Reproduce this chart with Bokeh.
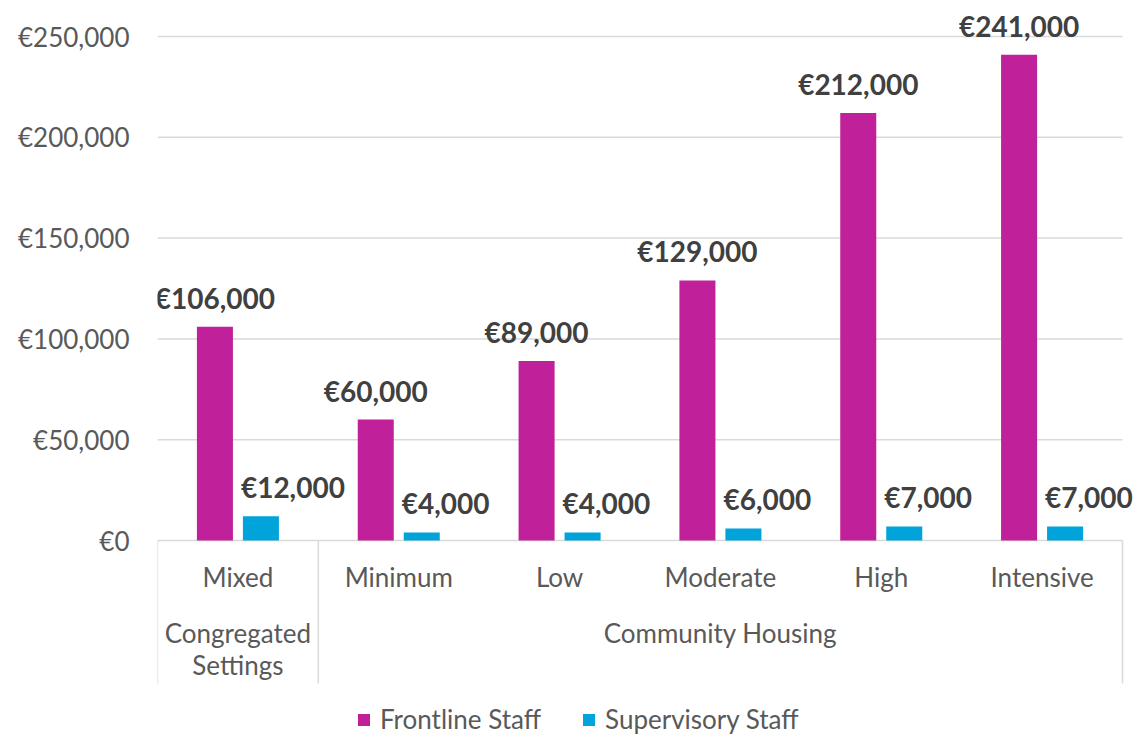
from bokeh.plotting import figure
from bokeh.models import ColumnDataSource, FixedTicker, Legend, LegendItem, Range1d
from bokeh.core.properties import value
from bokeh.embed import file_html
from bokeh.resources import INLINE

# ---- data ----
categories = ["Mixed", "Minimum", "Low", "Moderate", "High", "Intensive"]
groups = ["Congregated\nSettings", "Community Housing"]
group_sizes = [1, 5]
frontline = [106000, 60000, 89000, 129000, 212000, 241000]
supervisory = [12000, 4000, 4000, 6000, 7000, 7000]
series_names = ["Frontline Staff", "Supervisory Staff"]
y_ticks = [0, 50000, 100000, 150000, 200000, 250000]
y_tick_labels = ["€0", "€50,000", "€100,000", "€150,000", "€200,000", "€250,000"]

# ---- style ----
FONT = "Lato"
MAGENTA = "#C0219A"
BLUE = "#00A3DA"
GREY_TXT = "#595959"
LABEL_TXT = "#404040"
LINE = "#D9D9D9"

W, H = 1139, 736
LEFT = 157
AXIS_RIGHT_PX = 1122   # where the category axis ends
ZERO_PX = 540          # canvas y of value 0
TOP_PX = 36            # canvas y of 250,000
px_per_unit = (ZERO_PX - TOP_PX) / 250000.0
y_end = 250000 + TOP_PX / px_per_unit
y_start = -(H - ZERO_PX) / px_per_unit

n = len(categories)
cat_px = (AXIS_RIGHT_PX - LEFT) / n
x_end = n + (W - AXIS_RIGHT_PX) / cat_px

p = figure(width=W, height=H, x_range=Range1d(0, x_end), y_range=Range1d(y_start, y_end),
           output_backend="svg", toolbar_location=None, x_axis_location=None,
           min_border_left=LEFT, min_border_right=0, min_border_top=0, min_border_bottom=0)
p.outline_line_color = None
p.xgrid.visible = False
p.ygrid.visible = False

ax = p.yaxis[0]
ax.ticker = FixedTicker(ticks=y_ticks)
ax.major_label_overrides = {t: l for t, l in zip(y_ticks, y_tick_labels)}
ax.axis_line_color = None
ax.major_tick_line_color = None
ax.minor_tick_line_color = None
ax.major_label_standoff = 22
ax.major_label_text_font = FONT
ax.major_label_text_font_size = "26px"
ax.major_label_text_color = GREY_TXT

# gridlines limited to the category span
p.segment(x0=[0] * len(y_ticks), y0=y_ticks, x1=[n] * len(y_ticks), y1=y_ticks,
          line_color=LINE, line_width=1.5)

# ---- bars ----
off, bw = 0.143, 0.224
centers = [i + 0.5 for i in range(n)]
src_f = ColumnDataSource(dict(x=[c - off for c in centers], top=frontline,
                              lab=["€{:,}".format(v) for v in frontline]))
src_s = ColumnDataSource(dict(x=[c + off for c in centers], xl=[c + off - bw / 2 for c in centers],
                              top=supervisory, lab=["€{:,}".format(v) for v in supervisory]))
r_f = p.vbar(x="x", top="top", bottom=0, width=bw, source=src_f, fill_color=MAGENTA, line_color=None)
r_s = p.vbar(x="x", top="top", bottom=0, width=bw, source=src_s, fill_color=BLUE, line_color=None)

p.text(x="x", y="top", text="lab", source=src_f, text_align="center", text_baseline="alphabetic",
       y_offset=-29, text_font=value(FONT), text_font_style="bold", text_font_size="28px",
       text_color=LABEL_TXT)
p.text(x="xl", y="top", text="lab", source=src_s, text_align="left", text_baseline="alphabetic",
       x_offset=-2, y_offset=-29, text_font=value(FONT), text_font_style="bold", text_font_size="28px",
       text_color=LABEL_TXT)

# ---- category axis (drawn below zero) ----
cat_src = ColumnDataSource(dict(x=centers, y=[0] * n, t=categories))
p.text(x="x", y="y", text="t", source=cat_src, text_align="center", text_baseline="middle",
       y_offset=36, text_font=value(FONT), text_font_size="26px", text_color=GREY_TXT)

bounds = [0]
for s in group_sizes:
    bounds.append(bounds[-1] + s)
g_centers = [(bounds[i] + bounds[i + 1]) / 2 for i in range(len(groups))]
grp_src = ColumnDataSource(dict(x=g_centers, y=[0] * len(groups), t=groups))
p.text(x="x", y="y", text="t", source=grp_src, text_align="center", text_baseline="top",
       y_offset=76, text_font=value(FONT), text_font_size="26px", text_color=GREY_TXT,
       text_line_height=1.0)

sep_depth = 143 / px_per_unit
p.segment(x0=bounds, y0=[0] * len(bounds), x1=bounds, y1=[-sep_depth] * len(bounds),
          line_color=LINE, line_width=1.5)

# ---- legend ----
legend = Legend(items=[LegendItem(label=series_names[0], renderers=[r_f]),
                       LegendItem(label=series_names[1], renderers=[r_s])],
                orientation="horizontal", location=(199, 1), padding=0, margin=0,
                spacing=40, glyph_width=15, glyph_height=15, label_standoff=9,
                border_line_color=None, background_fill_alpha=0,
                label_text_font=FONT, label_text_font_size="26px", label_text_color=GREY_TXT)
p.add_layout(legend)

open("out.html", "w").write(file_html(p, INLINE))
